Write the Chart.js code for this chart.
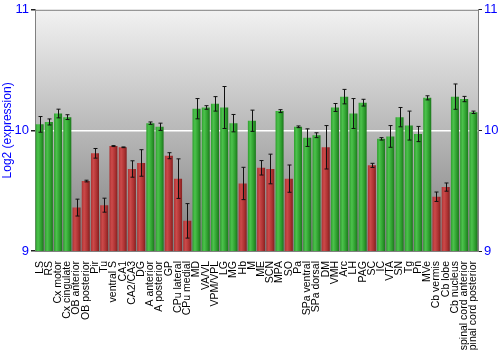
<!DOCTYPE html>
<html>
<head>
<meta charset="utf-8">
<script src="https://cdn.jsdelivr.net/npm/chart.js@4/dist/chart.umd.min.js"></script>
<style>
  html, body { margin: 0; padding: 0; background: #fff; }
  #wrap { width: 500px; height: 350px; }
</style>
</head>
<body>
<div id="wrap"><canvas id="exprChart"></canvas></div>
<script>
// Brain region expression (log2), with error bars

const regions = ['LS', 'RS', 'Cx motor', 'Cx cingulate', 'OB anterior', 'OB posterior', 'Pir', 'Tu',
  'ventral S', 'CA1', 'CA2/CA3', 'DG', 'A anterior', 'A posterior', 'GP', 'CPu lateral', 'CPu medial',
  'MD', 'VA/VL', 'VPM/VPL', 'LG', 'MG', 'Hb', 'M', 'ME', 'SCN', 'MPA', 'SO', 'Pa', 'SPa ventral',
  'SPa dorsal', 'DM', 'VMH', 'Arc', 'LH', 'PAG', 'SC', 'IC', 'VTA', 'SN', 'Tg', 'Pn', 'MVe',
  'Cb vermis', 'Cb lobe', 'Cb nucleus', 'spinal cord anterior', 'spinal cord posterior'];

const expression = [10.05, 10.07, 10.14, 10.11, 9.36, 9.58, 9.81, 9.38,
  9.87, 9.86, 9.68, 9.73, 10.06, 10.03, 9.79, 9.60, 9.25,
  10.18, 10.19, 10.22, 10.19, 10.06, 9.56, 10.08, 9.69, 9.68, 10.16, 9.60, 10.03, 9.94,
  9.96, 9.86, 10.19, 10.28, 10.14, 10.23, 9.71, 9.93, 9.95, 10.11, 10.04, 9.97, 10.27,
  9.45, 9.53, 10.28, 10.26, 10.15];

const errors = [0.065, 0.025, 0.036, 0.02, 0.07, 0.007, 0.04, 0.058,
  0.004, 0.003, 0.068, 0.11, 0.01, 0.03, 0.025, 0.164, 0.143,
  0.084, 0.015, 0.06, 0.174, 0.072, 0.134, 0.088, 0.06, 0.123, 0.012, 0.113, 0.007, 0.073,
  0.02, 0.18, 0.033, 0.06, 0.124, 0.028, 0.017, 0.01, 0.09, 0.08, 0.12, 0.063, 0.017,
  0.039, 0.034, 0.105, 0.022, 0.01];

// 'h' = high (green), 'l' = low (red)
const level = ['h', 'h', 'h', 'h', 'l', 'l', 'l', 'l',
  'l', 'l', 'l', 'l', 'h', 'h', 'l', 'l', 'l',
  'h', 'h', 'h', 'h', 'h', 'l', 'h', 'l', 'l', 'h', 'l', 'h', 'h',
  'h', 'l', 'h', 'h', 'h', 'h', 'l', 'h', 'h', 'h', 'h', 'h', 'h',
  'l', 'l', 'h', 'h', 'h'];

const yTicks = [9, 10, 11];

const palette = {
  h: ['#4cc24c', '#2e9e2e', '#1c761c'],
  l: ['#cc4a4a', '#ad3232', '#842020']
};

/**
 * Horizontal shading for each bar
 */
function barFill(context) {
  const chart = context.chart;
  const key = level[context.dataIndex];
  const xs = chart.scales.x;
  if (!chart.chartArea || !xs || xs.width === 0) return palette[key][1];
  const cx = xs.getPixelForValue(context.dataIndex);
  const half = xs.width / regions.length * 0.87 / 2;
  const g = chart.ctx.createLinearGradient(cx - half, 0, cx + half, 0);
  g.addColorStop(0, palette[key][1]);
  g.addColorStop(0.3, palette[key][0]);
  g.addColorStop(0.7, palette[key][1]);
  g.addColorStop(1, palette[key][2]);
  return g;
}

/**
 * Grey gradient behind the bars + top frame line
 */
const plotBackground = {
  id: 'plotBackground',
  beforeDraw(chart) {
    const { ctx, chartArea: a } = chart;
    const g = ctx.createLinearGradient(0, a.top, 0, a.bottom);
    g.addColorStop(0, '#f2f2f2');
    g.addColorStop(1, '#7e7e7e');
    ctx.save();
    ctx.fillStyle = g;
    ctx.fillRect(a.left, a.top, a.right - a.left, a.bottom - a.top);
    ctx.restore();
  },
  afterDraw(chart) {
    const { ctx, chartArea: a } = chart;
    ctx.save();
    ctx.strokeStyle = '#808080';
    ctx.lineWidth = 1;
    ctx.beginPath();
    ctx.moveTo(a.left, a.top + 0.5);
    ctx.lineTo(a.right, a.top + 0.5);
    ctx.stroke();
    ctx.restore();
  }
};

/**
 * Error bars drawn through the y scale
 */
const errorBars = {
  id: 'errorBars',
  afterDatasetsDraw(chart) {
    const { ctx } = chart;
    const ys = chart.scales.y;
    const meta = chart.getDatasetMeta(0);
    ctx.save();
    ctx.strokeStyle = '#111';
    ctx.lineWidth = 1;
    meta.data.forEach((bar, i) => {
      const x = Math.round(bar.x) + 0.5;
      const yHi = ys.getPixelForValue(expression[i] + errors[i]);
      const yLo = ys.getPixelForValue(expression[i] - errors[i]);
      ctx.beginPath();
      ctx.moveTo(x, yHi);
      ctx.lineTo(x, yLo);
      ctx.moveTo(x - 2, yHi);
      ctx.lineTo(x + 2, yHi);
      ctx.moveTo(x - 2, yLo);
      ctx.lineTo(x + 2, yLo);
      ctx.stroke();
    });
    ctx.restore();
  }
};

document.addEventListener('DOMContentLoaded', () => {
  const ctx = document.getElementById('exprChart').getContext('2d');
  const font = { family: '"Liberation Sans", Arial, sans-serif' };

  new Chart(ctx, {
    type: 'bar',
    data: {
      labels: regions,
      datasets: [{
        data: expression,
        backgroundColor: barFill,
        borderWidth: 0,
        barPercentage: 0.87,
        categoryPercentage: 1.0
      }]
    },
    options: {
      responsive: true,
      maintainAspectRatio: false,
      animation: false,
      layout: { padding: { top: 9, right: 0, left: 0, bottom: 0 } },
      plugins: {
        legend: { display: false },
        tooltip: { enabled: false }
      },
      scales: {
        x: {
          afterFit(axis) { axis.height = 99; },
          grid: { display: false },
          border: { color: '#808080' },
          ticks: {
            autoSkip: false,
            minRotation: 90,
            maxRotation: 90,
            padding: 2,
            color: '#000',
            font: { ...font, size: 10.5 }
          }
        },
        y: {
          min: 9,
          max: 11,
          afterBuildTicks(axis) { axis.ticks = yTicks.map(v => ({ value: v })); },
          afterFit(axis) { axis.width = 35; },
          border: { color: '#808080' },
          grid: {
            color: c => c.tick && c.tick.value === 10 ? '#ffffff' : 'rgba(0,0,0,0)',
            lineWidth: 1.5,
            tickColor: '#222',
            tickLength: 4
          },
          ticks: {
            color: '#0000ff',
            padding: 2,
            font: { ...font, size: 13 }
          },
          title: {
            display: true,
            text: 'Log2 (expression)',
            color: '#0000ff',
            padding: 0,
            font: { ...font, size: 12 }
          }
        },
        y2: {
          position: 'right',
          min: 9,
          max: 11,
          afterBuildTicks(axis) { axis.ticks = yTicks.map(v => ({ value: v })); },
          afterFit(axis) { axis.width = 22; },
          border: { color: '#808080' },
          grid: {
            drawOnChartArea: false,
            tickColor: '#222',
            tickLength: 4
          },
          ticks: {
            color: '#0000ff',
            padding: 2,
            font: { ...font, size: 13 }
          }
        }
      }
    },
    plugins: [plotBackground, errorBars]
  });
});
</script>
</body>
</html>
